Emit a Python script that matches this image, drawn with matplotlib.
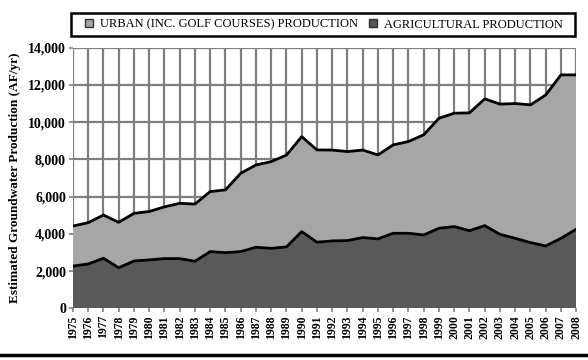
import matplotlib.pyplot as plt
from matplotlib.lines import Line2D
from matplotlib.patches import Rectangle
from matplotlib.ticker import FuncFormatter

years = list(range(1975, 2009))
# total production (top of stack)
total = [4420, 4600, 5010, 4620, 5100, 5200, 5450, 5640, 5600, 6270, 6360,
         7250, 7700, 7880, 8230, 9220, 8510, 8500, 8420, 8500, 8240,
         8780, 8960, 9320, 10210, 10480, 10500, 11250, 10970, 11000, 10930,
         11460, 12540, 12540]
agricultural = [2270, 2380, 2690, 2180, 2540, 2600, 2670, 2670, 2525, 3045, 2990,
                3045, 3280, 3220, 3300, 4120, 3550, 3620, 3640, 3800, 3730,
                4030, 4030, 3940, 4300, 4390, 4170, 4440, 3975, 3760, 3530,
                3350, 3760, 4250]
urban = [t - a for t, a in zip(total, agricultural)]

labels = ['URBAN (INC. GOLF COURSES) PRODUCTION', 'AGRICULTURAL PRODUCTION']
colors = ['#a6a6a6', '#595959']

plt.rcParams['font.family'] = ['Liberation Serif', 'DejaVu Serif']

fig = plt.figure(figsize=(5.88, 3.6), dpi=100)
ax = fig.add_axes([0.124, 0.1436, 0.856, 0.7239])

ax.stackplot(years, agricultural, urban, colors=[colors[1], colors[0]], zorder=2)
ax.plot(years, agricultural, color='black', lw=2, zorder=3)
ax.plot(years, total, color='black', lw=2, zorder=3)

ax.set_xlim(1975, 2008)
ax.set_ylim(0, 14000)
ax.set_xticks(years)
ax.set_xticklabels([str(y) for y in years], rotation=90, fontsize=8.5, fontweight='bold')
ax.set_yticks(range(0, 14001, 2000))
ax.yaxis.set_major_formatter(FuncFormatter(lambda v, p: f'{int(v):,}'))
for t in ax.get_yticklabels():
    t.set_fontsize(10)
    t.set_fontweight('bold')
ax.tick_params(axis='both', color='#808080', length=3, width=1.2, pad=2)
ax.grid(True, color='#7f7f7f', lw=1.6, zorder=1)
ax.set_axisbelow(True)
for s in ax.spines.values():
    s.set_visible(False)

ax.set_ylabel('Estimated Groundwater Production (AF/yr)', fontsize=9.5,
              fontweight='bold', labelpad=5)

# legend box
fig.patches.append(Rectangle((71 / 588, 1 - 36 / 360), 504 / 588, 23 / 360,
                             transform=fig.transFigure, fill=False,
                             edgecolor='black', lw=1.8))
handles = [Line2D([], [], ls='none', marker='s', markersize=6,
                  markerfacecolor=c, markeredgecolor='#333333', markeredgewidth=1)
           for c in colors]
fig.legend(handles, labels, loc='center', ncol=2,
           bbox_to_anchor=(323 / 588, 1 - 24.5 / 360), frameon=False,
           fontsize=9, handletextpad=0.4, columnspacing=0.7, handlelength=1)

fig.add_artist(Line2D([0, 1], [0.014, 0.014], color='black', lw=2.5,
                      transform=fig.transFigure))

fig.savefig('out.png', dpi=100)
